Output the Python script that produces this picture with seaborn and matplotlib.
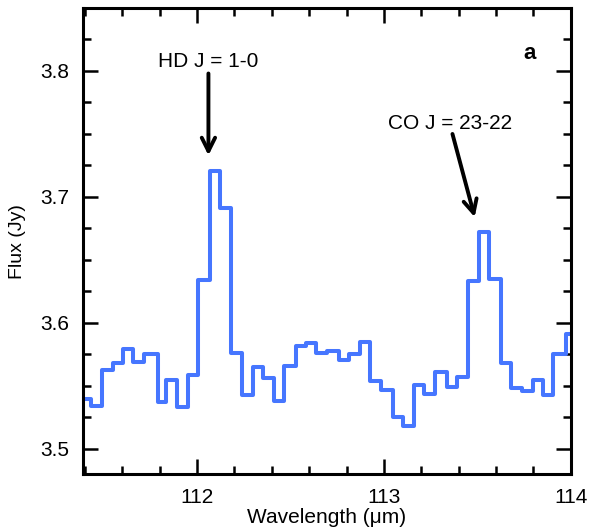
import numpy as np
import matplotlib
matplotlib.use("Agg")
import matplotlib.pyplot as plt
from matplotlib.ticker import MultipleLocator
import seaborn as sns

# Bords des canaux (µm) et flux mesuré (Jy) dans chaque canal
bin_edges = [111.37, 111.434, 111.491, 111.548, 111.604, 111.660, 111.714, 111.789,
             111.836, 111.893, 111.950, 112.003, 112.067, 112.125, 112.182, 112.241,
             112.300, 112.351, 112.410, 112.468, 112.527, 112.585, 112.639, 112.696,
             112.758, 112.812, 112.871, 112.928, 112.987, 113.048, 113.103, 113.160,
             113.214, 113.276, 113.339, 113.393, 113.450, 113.508, 113.562, 113.625,
             113.678, 113.741, 113.798, 113.851, 113.907, 113.973, 114.03]
flux = [3.540, 3.534, 3.563, 3.568, 3.579, 3.569, 3.575, 3.537, 3.555, 3.533,
        3.559, 3.634, 3.721, 3.691, 3.576, 3.543, 3.565, 3.556, 3.538, 3.566,
        3.582, 3.584, 3.576, 3.578, 3.571, 3.575, 3.585, 3.554, 3.547, 3.525,
        3.518, 3.551, 3.544, 3.561, 3.549, 3.557, 3.633, 3.672, 3.635, 3.568,
        3.548, 3.546, 3.555, 3.543, 3.575, 3.591]

# Raies identifiées : texte, position du texte, queue et pointe de la flèche
line_labels = ["HD J = 1-0", "CO J = 23-22"]
label_xy = [(112.061, 3.8076), (113.355, 3.758)]
arrow_tail = [(112.061, 3.798), (113.367, 3.750)]
arrow_head = [(112.061, 3.733), (113.486, 3.684)]

sns.set_style("ticks")
plt.rcParams["font.family"] = ["Liberation Sans", "DejaVu Sans"]
plt.rcParams["text.color"] = "black"
plt.rcParams["axes.labelcolor"] = "black"

fig = plt.figure(figsize=(5.89, 5.31), dpi=100)
ax = fig.add_axes([0.141, 0.107, 0.828, 0.878])

# Spectre en escalier
y_steps = flux + [flux[-1]]
sns.lineplot(x=bin_edges, y=y_steps, ax=ax, drawstyle="steps-post",
             color="#4676ff", linewidth=2.9, sort=False, estimator=None)

for txt, pos, tail, head in zip(line_labels, label_xy, arrow_tail, arrow_head):
    ax.text(pos[0], pos[1], txt, ha="center", va="center", fontsize=15, color="black")
    ax.annotate("", xy=head, xytext=tail,
                arrowprops=dict(arrowstyle="->", lw=2.8, color="black",
                                mutation_scale=24, shrinkA=0, shrinkB=0))

ax.text(113.78, 3.814, "a", ha="center", va="center", fontsize=16,
        fontweight="bold", color="black")

ax.set_xlim(111.39, 114.0)
ax.set_ylim(3.48, 3.85)
ax.xaxis.set_major_locator(MultipleLocator(1))
ax.xaxis.set_minor_locator(MultipleLocator(0.2))
ax.yaxis.set_major_locator(MultipleLocator(0.1))
ax.yaxis.set_minor_locator(MultipleLocator(0.025))
ax.tick_params(which="both", direction="in", top=True, right=True,
               width=1.8, color="black", labelsize=15, labelcolor="black")
ax.tick_params(which="major", length=11, pad=10)
ax.tick_params(which="minor", length=6)
for s in ax.spines.values():
    s.set_linewidth(2.2)
    s.set_color("black")

ax.set_xlabel("Wavelength (\u03bcm)", fontsize=15, labelpad=1)
ax.set_ylabel("Flux (Jy)", fontsize=14, labelpad=10)

fig.savefig("out.png", dpi=100)
